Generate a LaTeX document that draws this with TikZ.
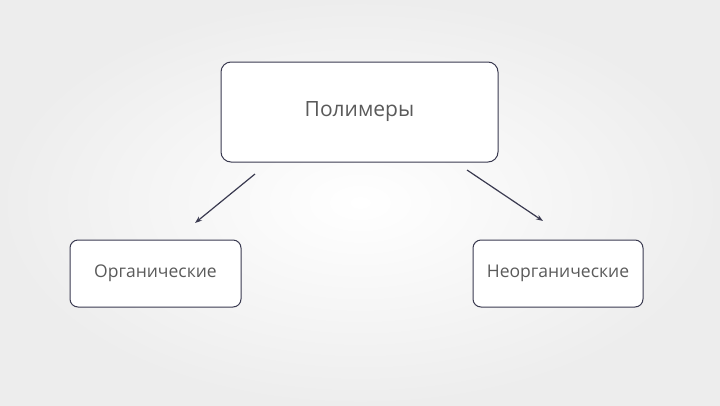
\documentclass[tikz,border=0pt]{standalone}
\usepackage{fontspec}
\setmainfont{Open Sans}
\usetikzlibrary{arrows.meta}
\definecolor{edge}{HTML}{3A3A50}
\definecolor{txt}{HTML}{5A5A5A}
\tikzset{
  box/.style={draw=edge, line width=1pt, rounded corners=10pt, fill=white, text=txt, inner sep=0pt},
  conn/.style={draw=edge, line width=1.2pt, -{Stealth[length=7pt,width=5pt]}}
}
\begin{document}
\begin{tikzpicture}[x=1pt,y=-1pt]
\path[use as bounding box, inner color=white, outer color=black!7] (0,0) rectangle (720,405);
\node[box, minimum width=277pt, minimum height=100pt, font=\fontsize{21}{24}\selectfont] (top) at (359.5,112) {Полимеры};
\node[box, minimum width=171pt, minimum height=67pt, rounded corners=8pt, font=\fontsize{17.5}{20}\selectfont] (left) at (155.5,273.5) {Органические};
\node[box, minimum width=170pt, minimum height=67pt, rounded corners=8pt, font=\fontsize{17.5}{20}\selectfont] (right) at (558,273.5) {Неорганические};
\coordinate (a1) at (255,174);
\coordinate (a2) at (195,223);
\coordinate (b1) at (467,170);
\coordinate (b2) at (543,221);
\draw[conn] (a1) -- (a2);
\draw[conn] (b1) -- (b2);
\end{tikzpicture}
\end{document}
